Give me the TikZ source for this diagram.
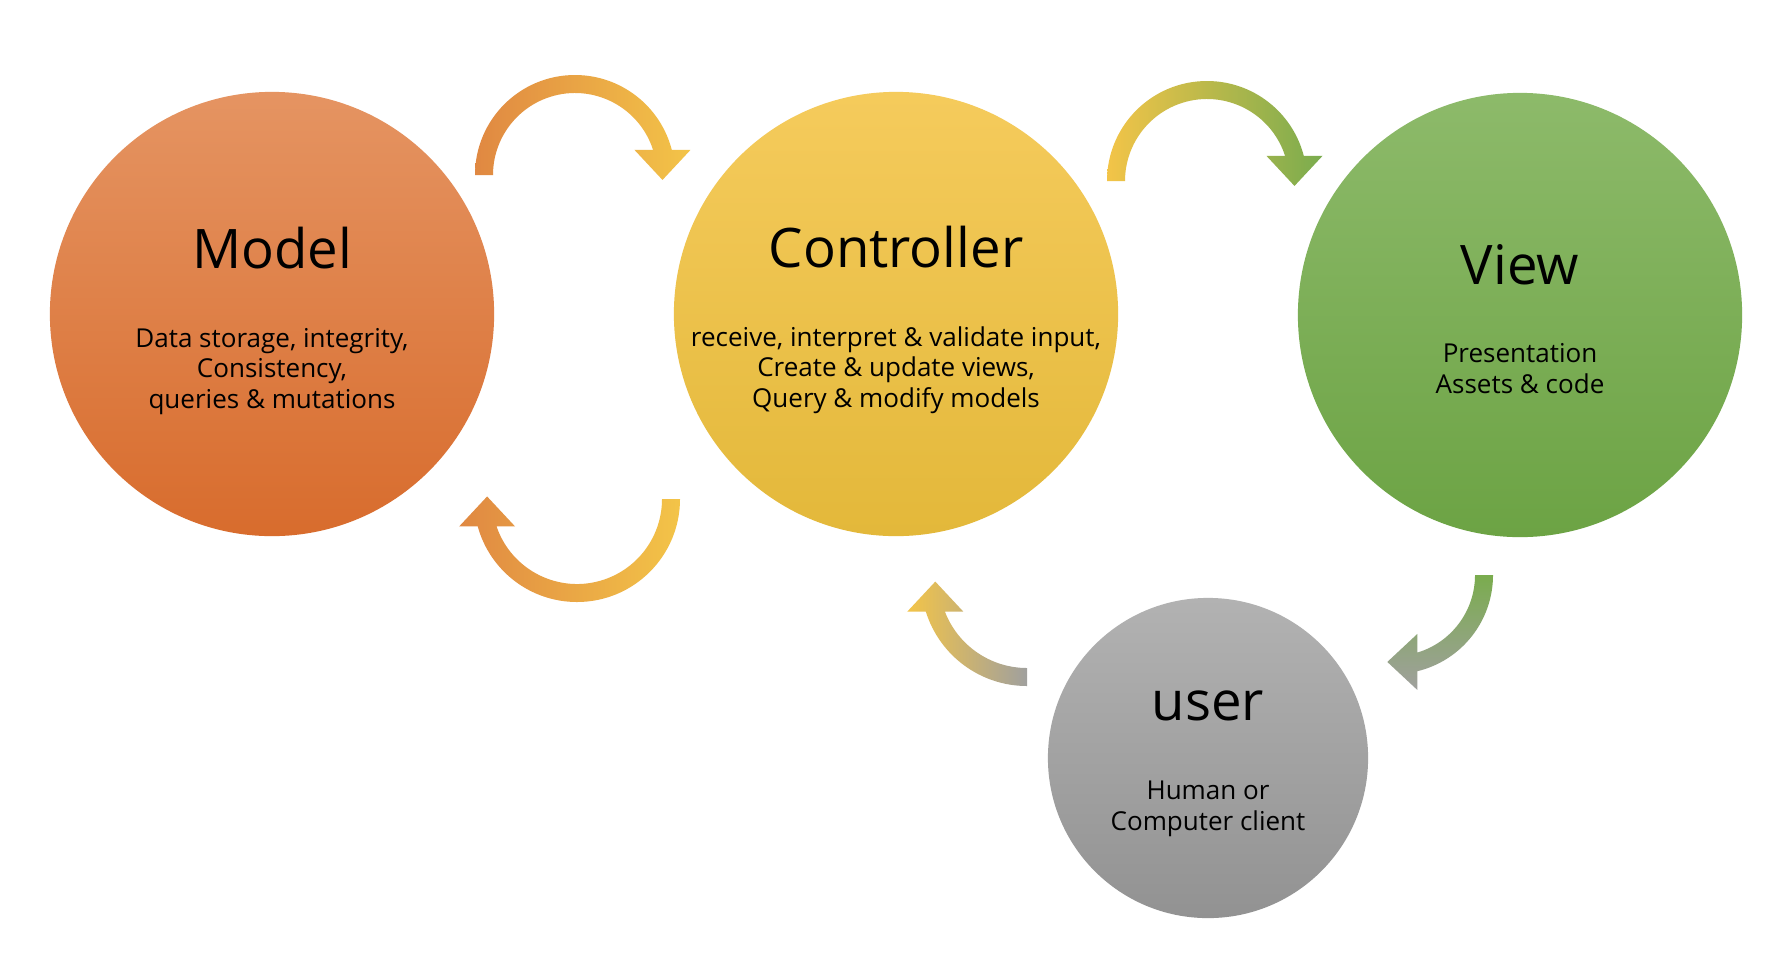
\documentclass[tikz,border=0pt]{standalone}
\usepackage{fontspec}
\setmainfont{Open Sans}
\usetikzlibrary{calc}

\definecolor{modeltop}{RGB}{229,148,98}
\definecolor{modelbot}{RGB}{216,108,45}
\definecolor{ctrltop}{RGB}{245,203,92}
\definecolor{ctrlbot}{RGB}{227,184,58}
\definecolor{viewtop}{RGB}{141,186,106}
\definecolor{viewbot}{RGB}{108,163,68}
\definecolor{usertop}{RGB}{178,178,178}
\definecolor{userbot}{RGB}{146,146,146}
\definecolor{arrorange}{RGB}{224,136,66}
\definecolor{arryellow}{RGB}{243,196,72}
\definecolor{arrgreen}{RGB}{122,172,78}
\definecolor{arrgray}{RGB}{160,160,158}

\tikzset{
  ball/.style={circle, minimum size=4.44cm, inner sep=0pt, draw=none},
  head/.style={font=\fontsize{15.5}{18}\selectfont, anchor=base},
  body/.style={font=\fontsize{7.4}{8.6}\selectfont, align=center, anchor=base},
}

% bent block arrow: options, centre, radius, start angle, end angle, head direction
\newcommand{\turnarrow}[6]{%
  \pgfmathsetmacro{\rout}{#3+9}\pgfmathsetmacro{\rin}{#3-9}%
  \pgfmathsetmacro{\hside}{#6-90}%
  \pgfmathsetmacro{\eout}{#6-acos(#3*cos(#5-#6)/\rout)}%
  \pgfmathsetmacro{\ein}{#6-acos(#3*cos(#5-#6)/\rin)}%
  \path[#1] ($(#2)+(#4:\rout)$)
    arc[start angle=#4, end angle=\eout, radius=\rout]
    -- ($(#2)+(#5:#3)+(\hside:28)$)
    -- ($(#2)+(#5:#3)+(#6:30)$)
    -- ($(#2)+(#5:#3)+(\hside:-28)$)
    -- ($(#2)+(\ein:\rin)$)
    arc[start angle=\ein, end angle=#4, radius=\rin]
    -- cycle;}

\begin{document}
\begin{tikzpicture}[x=0.01cm, y=-0.01cm]
  \useasboundingbox[fill=white] (0,0) rectangle (1792,954);

  % the four circles
  \node[ball, top color=modeltop, bottom color=modelbot] (model) at (272,314) {};
  \node[ball, top color=ctrltop, bottom color=ctrlbot] (ctrl) at (896,314) {};
  \node[ball, top color=viewtop, bottom color=viewbot] (view) at (1520,315) {};
  \node[ball, minimum size=3.2cm, top color=usertop, bottom color=userbot] (user) at (1208,758) {};

  % body nodes sit on the baseline of their last line
  \node[head] (model-t) at (272,268) {Model};
  \node[body] (model-b) at (272,408) {Data storage, integrity,\\Consistency,\\queries \& mutations};
  \node[head] (ctrl-t) at (896,267) {Controller};
  \node[body] (ctrl-b) at (896,407) {receive, interpret \& validate input,\\Create \& update views,\\Query \& modify models};
  \node[head] (view-t) at (1520,284) {View};
  \node[body] (view-b) at (1520,393) {Presentation\\Assets \& code};
  \node[head] (user-t) at (1208,720) {user};
  \node[body] (user-b) at (1208,830) {Human or\\Computer client};

  % arc centres of the bent arrows
  \coordinate (mc) at (575,175);
  \coordinate (cm) at (577,499);
  \coordinate (cv) at (1207,181);
  \coordinate (vu) at (1394,575);
  \coordinate (uc) at (1027,580);

  \turnarrow{left color=arrorange, right color=arryellow}{mc}{91}{180}{344}{450}
  \turnarrow{left color=arrorange, right color=arryellow}{cm}{94}{0}{163}{270}
  \turnarrow{left color=arryellow, right color=arrgreen}{cv}{91}{180}{344}{450}
  \turnarrow{top color=arrgreen, bottom color=arrgray}{vu}{90}{0}{75}{180}
  \turnarrow{left color=arryellow, middle color=arryellow!85!arrgray, right color=arrgray}{uc}{97}{90}{161}{270}
\end{tikzpicture}
\end{document}
